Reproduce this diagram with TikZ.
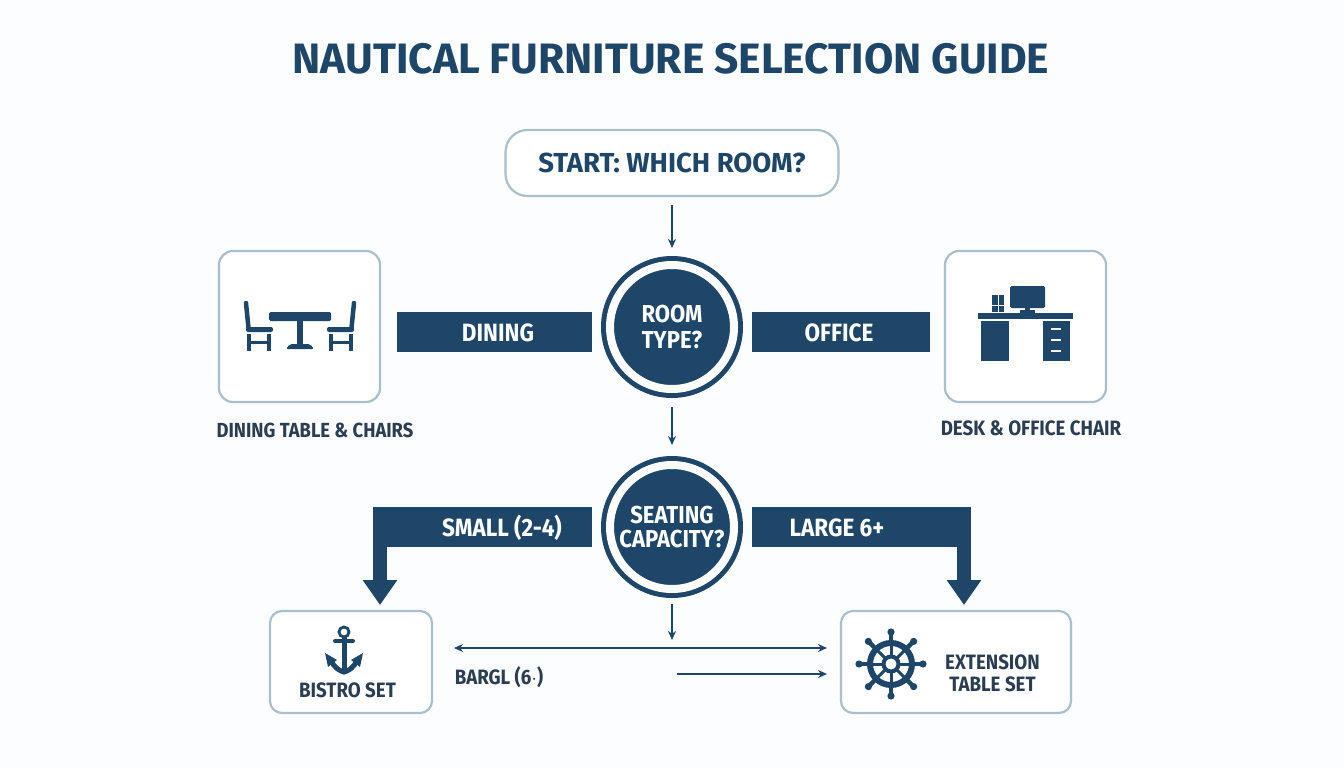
\documentclass[tikz,border=0pt]{standalone}
\usepackage{fontspec}
\setmainfont{Fira Sans}[FakeStretch=0.9]
\newfontfamily\widefont{Fira Sans}
\usetikzlibrary{arrows.meta}
\definecolor{navy}{HTML}{1E4668}
\definecolor{edge}{HTML}{A9BFCC}
\definecolor{ink}{HTML}{2A3D52}
\definecolor{paper}{HTML}{FCFDFE}
\tikzset{
    card/.style={draw=edge,line width=2.2pt,fill=white,rounded corners=14pt,inner sep=0pt,outer sep=0pt},
    bar/.style={fill=navy,minimum height=40pt,inner sep=0pt,outer sep=0pt},
    barlabel/.style={text=white,inner sep=0pt,font=\fontsize{25}{28}\selectfont\bfseries},
    decision/.style={circle,draw=navy,fill=navy,line width=5pt,double=white,double distance=8pt,minimum size=124pt,
        inner sep=0pt,outer sep=0pt,text=white,align=center,font=\fontsize{24.5}{26}\selectfont\bfseries},
    label/.style={text=ink,inner sep=0pt,align=center,font=\fontsize{20.8}{22}\selectfont\bfseries},
    thinarrow/.style={navy,line width=1.5pt,-{Stealth[length=9pt,width=8pt]}},
    bigarrow/.style={navy,line width=14pt,-{Triangle[length=25pt,width=33pt]}},
}
\begin{document}
\begin{tikzpicture}[x=1pt,y=-1pt]
    \fill[paper] (0,0) rectangle (1344,768);
    \useasboundingbox (0,0) rectangle (1344,768);

    \node[text=navy,inner sep=0pt,font=\widefont\fontsize{42.5}{46}\selectfont\bfseries] (title) at (671,59) {NAUTICAL FURNITURE SELECTION GUIDE};

    \node[card,rounded corners=22pt,minimum width=333pt,minimum height=66pt,text=navy,font=\widefont\fontsize{27.5}{30}\selectfont\bfseries] (start) at (672,163) {START: WHICH ROOM?};

    \node[decision] (roomtype) at (672,327) {ROOM\\TYPE?};
    \node[decision,font=\fontsize{24.5}{24}\selectfont\bfseries] (seating) at (672,527) {SEATING\\CAPACITY?};

    \node[bar,minimum width=195pt] (dining) at (494.5,332) {};
    \node[barlabel] (dininglabel) at (498,333) {DINING};
    \node[bar,minimum width=178pt] (office) at (841,332) {};
    \node[barlabel] (officelabel) at (839,333) {OFFICE};

    \node[card,minimum width=161pt,minimum height=151pt] (diningcard) at (299.5,326.5) {};
    \node[card,minimum width=161pt,minimum height=151pt] (officecard) at (1025.5,326.5) {};
    \node[label,font=\fontsize{20.4}{22}\selectfont\bfseries] (diningname) at (315,430) {DINING TABLE \& CHAIRS};
    \node[label] (officename) at (1031,428) {DESK \& OFFICE CHAIR};

    \node[bar,minimum width=219pt] (small) at (482.5,527) {};
    \node[barlabel] (smalllabel) at (502,528) {SMALL (2-4)};
    \node[bar,minimum width=219pt] (large) at (861.5,527) {};
    \node[barlabel] (largelabel) at (837,528) {LARGE 6+};

    \node[card,rounded corners=12pt,minimum width=162pt,minimum height=102pt] (bistro) at (351,662) {};
    \node[card,rounded corners=12pt,minimum width=230pt,minimum height=102pt] (extension) at (956,662) {};
    \node[label] (bistroname) at (347.5,690) {BISTRO SET};
    \node[label] (extensionname) at (992.5,673) {EXTENSION\\TABLE SET};
    \node[label] (bargl) at (499,677) {BARGL (6$\cdot$)};

    % connectors
    \draw[thinarrow,shorten <=9pt,shorten >=17pt] (start) -- (roomtype);
    \draw[thinarrow,shorten <=18pt,shorten >=20pt] (roomtype) -- (seating);
    \coordinate (seatingend) at (672,640);
    \draw[thinarrow,shorten <=15pt] (seating) -- (seatingend);

    \coordinate (smalldrop) at (380,547);
    \coordinate (largedrop) at (964,547);
    \draw[bigarrow,shorten >=6pt] (smalldrop) -- (smalldrop |- bistro.north);
    \draw[bigarrow,shorten >=6pt] (largedrop) -- (largedrop |- extension.north);

    \coordinate (longleft) at (454,648);
    \coordinate (longright) at (827,648);
    \coordinate (shortleft) at (677,674);
    \coordinate (shortright) at (827,674);
    \draw[thinarrow,{Stealth[length=9pt,width=8pt]}-{Stealth[length=9pt,width=8pt]}] (longleft) -- (longright);
    \draw[thinarrow] (shortleft) -- (shortright);

    % table and chairs
    \fill[navy,rounded corners=1.5pt] (269,312) rectangle (331,321);
    \fill[navy] (297,321) rectangle (303,345);
    \fill[navy,rounded corners=2pt] (286,349) -- (290,344) -- (310,344) -- (314,349) -- cycle;
    \foreach \s/\o in {1/0,-1/600} {
        \begin{scope}[xshift=\o pt,xscale=\s]
            \draw[navy,line width=4.5pt,line cap=round] (246,303) -- (248.5,328);
            \fill[navy,rounded corners=2pt] (246,327) rectangle (273,332);
            \fill[navy] (247,334) rectangle (251,351);
            \fill[navy] (267,334) rectangle (271,351);
            \fill[navy] (247,341) rectangle (271,344);
        \end{scope}
    }

    % desk
    \fill[navy] (978,313) rectangle (1073,319);
    \fill[navy] (981,321) rectangle (1009,361);
    \fill[navy] (1043,321) rectangle (1070,361);
    \foreach \y in {329,340,351} \draw[white,line width=1.8pt] (1051,\y) -- (1061,\y);
    \fill[navy,rounded corners=1.5pt] (1010,286) rectangle (1045,308);
    \fill[navy] (1025,308) rectangle (1030,311);
    \fill[navy] (1020,310) rectangle (1035,312.5);
    \fill[navy] (992,295) rectangle (1004,312);
    \draw[white,line width=1pt] (998,295) -- (998,312) (992,305) -- (1004,305);

    % anchor
    \draw[navy,line width=2.8pt] (344,632) circle (5);
    \draw[navy,line width=5pt] (344,637) -- (344,672);
    \draw[navy,line width=4pt,line cap=round] (335,641) -- (353,641);
    \draw[navy,line width=5pt] (331,660) .. controls (334,668) and (340,671) .. (344,672) .. controls (348,671) and (354,668) .. (357,660);
    \fill[navy] (325,653) -- (337,660) -- (328,667) -- cycle;
    \fill[navy] (363,653) -- (351,660) -- (360,667) -- cycle;

    % wheel
    \begin{scope}[shift={(891,664)}]
        \draw[navy,line width=6pt] (0,0) circle (21);
        \foreach \a in {0,45,...,315} {
            \draw[navy,line width=3pt] (\a:8) -- (\a:20);
            \draw[navy,line width=4.4pt] (\a:23) -- (\a:32);
            \fill[navy] (\a:32) circle (3.6);
        }
        \draw[navy,line width=4pt,fill=white] (0,0) circle (7.5);
    \end{scope}
\end{tikzpicture}
\end{document}
